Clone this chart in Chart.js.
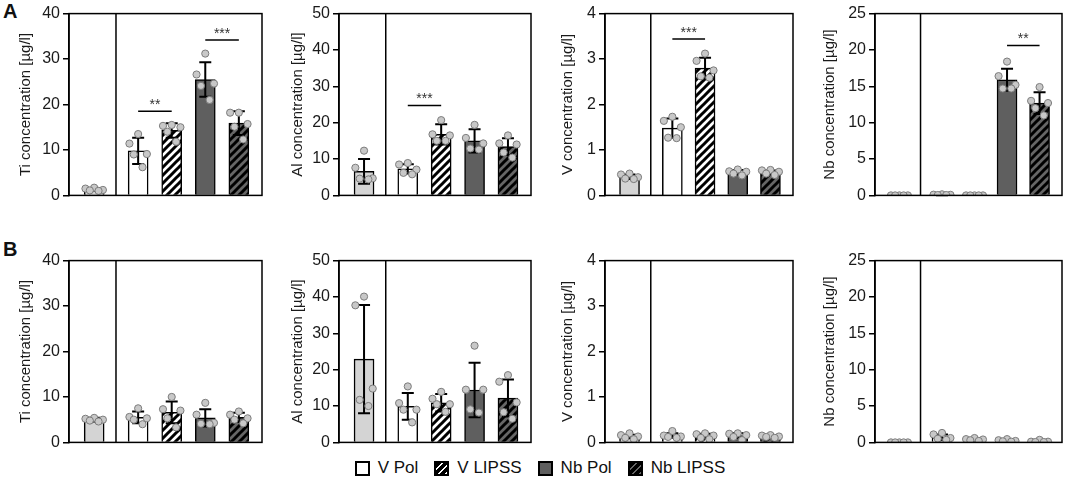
<!DOCTYPE html>
<html>
<head>
<meta charset="utf-8">
<title>Metal ion release</title>
<script src="https://cdn.jsdelivr.net/npm/chart.js@4.4.1/dist/chart.umd.min.js"></script>
<style>
  html, body { margin: 0; padding: 0; background: #fff; }
  body { width: 1065px; height: 484px; position: relative; overflow: hidden;
         font-family: "Liberation Sans", Arial, sans-serif; color: #111; }
  .panel { position: absolute; }
  .tag { position: absolute; font-weight: bold; font-size: 20px; line-height: 20px; }
  #legend { position: absolute; left: 0; top: 458px; width: 1080px; display: flex;
            justify-content: center; align-items: center; font-size: 17px; }
  #legend .item { display: flex; align-items: center; margin: 0 8px; }
  #legend i { display: inline-block; width: 11px; height: 11px; border: 2px solid #000; margin-right: 8px; }
  .sw-white { background: #fff; }
  .sw-white-h { background: repeating-linear-gradient(-45deg, #fff 0 2px, #000 2px 5px); }
  .sw-dark { background: #5f5f5f; }
  .sw-dark-h { background: repeating-linear-gradient(-45deg, #666 0 2px, #000 2px 5px); }
</style>
</head>
<body>
<div class="tag" style="left:3px; top:1px;">A</div>
<div class="tag" style="left:3px; top:239px;">B</div>
<div id="legend">
  <span class="item"><i class="sw-white"></i>V Pol</span>
  <span class="item"><i class="sw-white-h"></i>V LIPSS</span>
  <span class="item"><i class="sw-dark"></i>Nb Pol</span>
  <span class="item"><i class="sw-dark-h"></i>Nb LIPSS</span>
</div>
<script>
'use strict';

// Groups: control, V Pol, V LIPSS, Nb Pol, Nb LIPSS
const groups = ['Control', 'V Pol', 'V LIPSS', 'Nb Pol', 'Nb LIPSS'];

// Row A
const tiA_mean = [1.3, 9.8, 14.3, 25.5, 15.9];
const tiA_sd = [0.3, 2.9, 1.6, 3.8, 2.6];
const tiA_pts = [[1.7, 1.5, 1.2, 1.1, 1.0], [13.5, 11.4, 9.1, 9.0, 6.2], [15.5, 15.3, 15.0, 14.0, 11.8], [31.2, 26.6, 24.6, 24.1, 21.0], [18.2, 18.2, 15.7, 15.1, 12.3]];
const tiA_sig = [[1, 2, 18.5, '**'], [3, 4, 34.2, '***']];

const alA_mean = [6.6, 7.3, 16.8, 15.0, 13.4];
const alA_sd = [3.4, 1.3, 2.8, 3.2, 2.3];
const alA_pts = [[12.3, 7.6, 4.7, 4.6, 4.4], [8.9, 8.5, 7.1, 6.2, 5.8], [20.7, 16.8, 16.5, 15.0, 15.0], [19.4, 15.8, 14.3, 12.9, 12.6], [16.5, 14.3, 14.0, 11.8, 10.4]];
const alA_sig = [[1, 2, 24.7, '***']];

const vA_mean = [0.41, 1.48, 2.8, 0.51, 0.51];
const vA_sd = [0.05, 0.21, 0.23, 0.05, 0.04];
const vA_pts = [[0.48, 0.46, 0.40, 0.37, 0.36], [1.73, 1.64, 1.50, 1.27, 1.26], [3.12, 2.96, 2.75, 2.62, 2.59], [0.57, 0.53, 0.52, 0.48, 0.44], [0.56, 0.55, 0.52, 0.48, 0.45]];
const vA_sig = [[1, 2, 3.44, '***']];

const nbA_mean = [0, 0.08, 0, 15.9, 12.7];
const nbA_sd = [0, 0.05, 0, 1.5, 1.5];
const nbA_pts = [[0, 0, 0, 0, 0], [0.15, 0.1, 0.08, 0.05, 0.05], [0, 0, 0, 0, 0], [18.4, 16.4, 15.2, 14.7, 14.7], [14.9, 13.0, 12.7, 12.0, 11.0]];
const nbA_sig = [[3, 4, 20.6, '**']];

// Row B
const tiB_mean = [5.0, 5.5, 6.6, 5.4, 5.5];
const tiB_sd = [0.4, 1.3, 2.4, 1.9, 1.0];
const tiB_pts = [[5.4, 5.2, 5.0, 4.8, 4.6], [7.5, 5.6, 5.3, 5.0, 4.0], [10.0, 7.3, 7.0, 5.3, 3.3], [8.7, 6.1, 4.3, 4.1, 4.0], [6.8, 6.1, 5.3, 5.0, 4.2]];

const alB_mean = [22.9, 9.9, 10.9, 14.4, 12.2];
const alB_sd = [14.9, 3.7, 2.4, 7.5, 5.1];
const alB_pts = [[40.1, 37.7, 14.8, 11.7, 10.0], [15.4, 10.8, 9.0, 9.0, 5.5], [13.9, 12.0, 10.5, 10.5, 8.4], [26.6, 14.5, 14.5, 9.1, 8.2], [18.5, 16.7, 11.0, 8.3, 6.5]];

const vB_mean = [0.13, 0.15, 0.14, 0.15, 0.13];
const vB_sd = [0.04, 0.05, 0.05, 0.05, 0.03];
const vB_pts = [[0.2, 0.16, 0.13, 0.1, 0.07], [0.25, 0.15, 0.13, 0.12, 0.1], [0.2, 0.18, 0.15, 0.1, 0.07], [0.2, 0.19, 0.16, 0.12, 0.05], [0.16, 0.15, 0.13, 0.12, 0.1]];

const nbB_mean = [0, 0.7, 0.4, 0.25, 0.15];
const nbB_sd = [0, 0.4, 0.15, 0.12, 0.1];
const nbB_pts = [[0, 0, 0, 0, 0], [1.3, 1.1, 0.6, 0.5, 0.35], [0.6, 0.45, 0.4, 0.3, 0.2], [0.45, 0.3, 0.2, 0.15, 0.1], [0.35, 0.1, 0.1, 0.05, 0.05]];

// Layout (x in axis units, control sits left of the divider)
const xPos = [0.75, 2.06, 3.06, 4.06, 5.06];
const dividerX = 1.4;
const xMax = 5.75;
const jitter = [0, -0.26, 0.26, -0.13, 0.13];
const plotH = 187;
const pad = { top: 12, right: 8, bottom: 8 };

const panels = [
  { title: 'Ti concentration [µg/l]', max: 40, step: 10, mean: tiA_mean, sd: tiA_sd, pts: tiA_pts, sig: tiA_sig, left: 69, top: 13, w: 193, yw: 52 },
  { title: 'Al concentration [µg/l]', max: 50, step: 10, mean: alA_mean, sd: alA_sd, pts: alA_pts, sig: alA_sig, left: 339, top: 13, w: 192, yw: 50 },
  { title: 'V concentration [µg/l]', max: 4, step: 1, mean: vA_mean, sd: vA_sd, pts: vA_pts, sig: vA_sig, left: 605, top: 13, w: 188, yw: 46 },
  { title: 'Nb concentration [µg/l]', max: 25, step: 5, mean: nbA_mean, sd: nbA_sd, pts: nbA_pts, sig: nbA_sig, left: 875, top: 13, w: 187, yw: 54 },
  { title: 'Ti concentration [µg/l]', max: 40, step: 10, mean: tiB_mean, sd: tiB_sd, pts: tiB_pts, sig: [], left: 69, top: 260, w: 193, yw: 52 },
  { title: 'Al concentration [µg/l]', max: 50, step: 10, mean: alB_mean, sd: alB_sd, pts: alB_pts, sig: [], left: 339, top: 260, w: 192, yw: 50 },
  { title: 'V concentration [µg/l]', max: 4, step: 1, mean: vB_mean, sd: vB_sd, pts: vB_pts, sig: [], left: 605, top: 260, w: 188, yw: 46 },
  { title: 'Nb concentration [µg/l]', max: 25, step: 5, mean: nbB_mean, sd: nbB_sd, pts: nbB_pts, sig: [], left: 875, top: 260, w: 187, yw: 54 },
];

Chart.defaults.font.family = '"Liberation Sans", Arial, sans-serif';
Chart.defaults.color = '#1a1a1a';

function makeHatch(bg) {
  const c = document.createElement('canvas');
  c.width = 8;
  c.height = 8;
  const g = c.getContext('2d');
  g.fillStyle = bg;
  g.fillRect(0, 0, 8, 8);
  g.strokeStyle = '#000';
  g.lineWidth = 3;
  g.beginPath();
  g.moveTo(-2, 10); g.lineTo(10, -2);
  g.moveTo(-2, 2); g.lineTo(2, -2);
  g.moveTo(6, 10); g.lineTo(10, 6);
  g.stroke();
  return g.createPattern(c, 'repeat');
}

const fills = ['#d4d4d4', '#ffffff', makeHatch('#ffffff'), '#5f5f5f', makeHatch('#666666')];

// Error bars, frame, divider and significance brackets.
function decor(p) {
  return {
    id: 'decor',
    afterDatasetDraw(chart, args) {
      if (args.index !== 0) {
        return;
      }
      const ctx = chart.ctx;
      const xs = chart.scales.x;
      const ys = chart.scales.y;
      ctx.save();
      ctx.strokeStyle = '#000';
      ctx.lineWidth = 2;
      p.mean.forEach((m, i) => {
        if (!p.sd[i]) {
          return;
        }
        const x = xs.getPixelForValue(xPos[i]);
        const yHi = ys.getPixelForValue(m + p.sd[i]);
        const yLo = ys.getPixelForValue(Math.max(0, m - p.sd[i]));
        ctx.beginPath();
        ctx.moveTo(x, yHi); ctx.lineTo(x, yLo);
        ctx.moveTo(x - 6, yHi); ctx.lineTo(x + 6, yHi);
        ctx.moveTo(x - 6, yLo); ctx.lineTo(x + 6, yLo);
        ctx.stroke();
      });
      ctx.restore();
    },
    afterDraw(chart) {
      const ctx = chart.ctx;
      const a = chart.chartArea;
      const xs = chart.scales.x;
      const ys = chart.scales.y;
      ctx.save();
      ctx.strokeStyle = '#000';
      ctx.lineWidth = 1.5;
      ctx.strokeRect(a.left, a.top, a.right - a.left, a.bottom - a.top);
      const dx = xs.getPixelForValue(dividerX);
      ctx.beginPath();
      ctx.moveTo(dx, a.top); ctx.lineTo(dx, a.bottom);
      ctx.stroke();

      ctx.fillStyle = '#333';
      ctx.font = '14px "Liberation Sans", Arial, sans-serif';
      ctx.textAlign = 'center';
      ctx.textBaseline = 'bottom';
      p.sig.forEach(s => {
        const x1 = xs.getPixelForValue(xPos[s[0]]);
        const x2 = xs.getPixelForValue(xPos[s[1]]);
        const y = ys.getPixelForValue(s[2]);
        ctx.beginPath();
        ctx.moveTo(x1, y); ctx.lineTo(x2, y);
        ctx.stroke();
        ctx.fillText(s[3], (x1 + x2) / 2, y + 1);
      });
      ctx.restore();
    },
  };
}

function buildPanel(p) {
  const box = document.createElement('div');
  box.className = 'panel';
  box.style.left = (p.left - p.yw) + 'px';
  box.style.top = (p.top - pad.top) + 'px';
  box.style.width = (p.yw + p.w + pad.right) + 'px';
  box.style.height = (pad.top + plotH + pad.bottom) + 'px';
  const canvas = document.createElement('canvas');
  box.appendChild(canvas);
  document.body.appendChild(box);

  const bars = p.mean.map((v, i) => ({ x: xPos[i], y: v }));
  const dots = [];
  p.pts.forEach((set, i) => {
    set.forEach((v, k) => dots.push({ x: xPos[i] + jitter[k], y: v }));
  });

  new Chart(canvas, {
    type: 'bar',
    data: {
      datasets: [
        {
          label: 'mean',
          data: bars,
          backgroundColor: fills,
          borderColor: '#000',
          borderWidth: 1.5,
          barThickness: 20,
          order: 2,
        },
        {
          type: 'scatter',
          label: 'samples',
          data: dots,
          pointRadius: 3.6,
          pointBackgroundColor: '#c8c8c8',
          pointBorderColor: '#7c7c7c',
          pointBorderWidth: 1,
          order: 1,
        },
      ],
    },
    options: {
      responsive: true,
      maintainAspectRatio: false,
      animation: false,
      layout: {
        padding: { top: pad.top, right: pad.right, bottom: pad.bottom, left: 0 },
      },
      plugins: {
        legend: { display: false },
        tooltip: { enabled: false },
      },
      scales: {
        x: {
          type: 'linear',
          display: false,
          min: 0,
          max: xMax,
          offset: false,
        },
        y: {
          min: 0,
          max: p.max,
          ticks: {
            stepSize: p.step,
            color: '#1a1a1a',
            font: { size: 16 },
            padding: 3,
          },
          grid: {
            drawOnChartArea: false,
            drawTicks: true,
            tickLength: 6,
            color: '#000',
            lineWidth: 1.5,
          },
          border: { color: '#000', width: 1.5 },
          title: {
            display: true,
            text: p.title,
            color: '#1a1a1a',
            font: { size: 15 },
            padding: 0,
          },
          afterFit: function (scale) {
            scale.width = p.yw;
          },
        },
      },
    },
    plugins: [decor(p)],
  });
}

panels.forEach(buildPanel);
</script>
</body>
</html>
